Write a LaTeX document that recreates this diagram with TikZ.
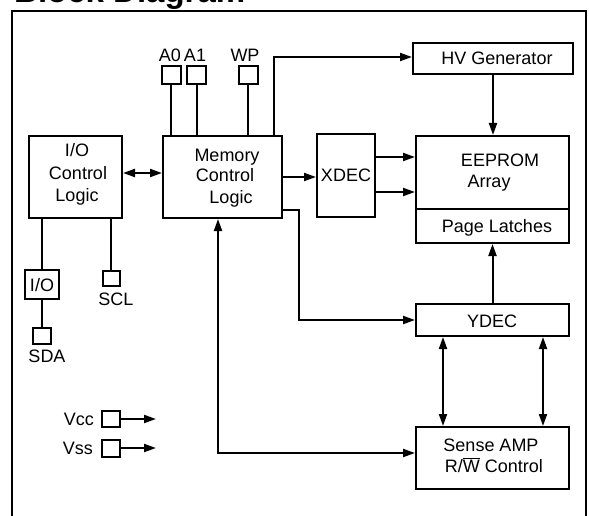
\documentclass[tikz,border=0pt]{standalone}
\usepackage{fontspec}
\setmainfont{Liberation Sans}
\usetikzlibrary{arrows.meta}
\begin{document}
\begin{tikzpicture}[x=1pt,y=-1pt,
  box/.style={draw, line width=2pt, inner sep=0pt, rectangle},
  lbl/.style={anchor=base, inner sep=0pt, font=\fontsize{18}{21}\selectfont},
  wire/.style={line width=2pt},
  arr/.style={wire, -{Triangle[length=12pt,width=8pt]}},
  dbl/.style={wire, {Triangle[length=12pt,width=8pt]}-{Triangle[length=12pt,width=8pt]}}]
\useasboundingbox (0,0) rectangle (589,516);
% title (cut at top)
\node[anchor=base west, inner sep=0pt, font=\fontsize{33}{33}\selectfont\bfseries] (title) at (14,2.5) {Block Diagram};
% frame
\draw[line width=2pt] (12,520) -- (12,11) -- (586,11) -- (586,520);
% boxes
\node[box, minimum width=93pt, minimum height=82pt] (ioc) at (75.5,177) {};
\node[box, minimum width=119pt, minimum height=82pt] (mem) at (222.5,177) {};
\node[box, minimum width=58pt, minimum height=83pt] (xdec) at (346,175.5) {};
\node[box, minimum width=153pt, minimum height=73pt] (eep) at (492.5,172.5) {};
\node[box, minimum width=153pt, minimum height=34pt] (pl) at (492.5,226) {};
\node[box, minimum width=160pt, minimum height=31pt] (hv) at (493,58.5) {};
\node[box, minimum width=153pt, minimum height=32pt] (ydec) at (492.5,320) {};
\node[box, minimum width=153pt, minimum height=62pt] (sense) at (492.5,458) {};
\node[box, minimum width=34pt, minimum height=29pt] (io) at (42,284.5) {};
% pins
\node[box, minimum width=18pt, minimum height=16pt] (sda) at (42,336) {};
\node[box, minimum width=17pt, minimum height=15pt] (scl) at (111,278.5) {};
\node[box, minimum width=19pt, minimum height=18pt] (a0) at (171,75) {};
\node[box, minimum width=19pt, minimum height=18pt] (a1) at (196.5,75) {};
\node[box, minimum width=19pt, minimum height=18pt] (wp) at (248,75) {};
\node[box, minimum width=18pt, minimum height=16pt] (vcc) at (111,419) {};
\node[box, minimum width=18pt, minimum height=17pt] (vss) at (111,448) {};
% texts
\node[lbl] (t1) at (77,157) {I/O};
\node[lbl] (t2) at (78,179) {Control};
\node[lbl] (t3) at (77,201) {Logic};
\node[lbl] (t4) at (227,161) {Memory};
\node[lbl] (t5) at (225,182) {Control};
\node[lbl] (t6) at (231,203) {Logic};
\node[lbl] (t7) at (346,182) {XDEC};
\node[lbl] (t8) at (500,166) {EEPROM};
\node[lbl] (t9) at (489,187) {Array};
\node[lbl] (t10) at (497,232) {Page Latches};
\node[lbl] (t11) at (497,65) {HV Generator};
\node[lbl] (t12) at (492,327) {YDEC};
\node[lbl] (t13) at (491,451) {Sense AMP};
\node[lbl] (t14) at (494,472) {R/$\overline{\mbox{W}}$ Control};
\node[lbl] (t15) at (42,291) {I/O};
\node[lbl] (t16) at (47,362) {SDA};
\node[lbl] (t17) at (116,305) {SCL};
\node[lbl] (t18) at (170,62) {A0};
\node[lbl] (t19) at (195,62) {A1};
\node[lbl] (t20) at (245,62) {WP};
\node[lbl, anchor=base east] (t21) at (94,425) {Vcc};
\node[lbl, anchor=base east] (t22) at (93,454) {Vss};
% connectors
\draw[dbl] ([yshift=4pt]ioc.east) -- ([yshift=4pt]mem.west);
\draw[arr] (mem.east) -- (mem.east -| xdec.west);
\draw[arr] ([yshift=15.5pt]eep.west -| xdec.east) -- ([yshift=15.5pt]eep.west);
\draw[arr] ([yshift=-19.5pt]eep.west -| xdec.east) -- ([yshift=-19.5pt]eep.west);
\draw[wire] (a0.south) -- (a0.south |- mem.north);
\draw[wire] (a1.south) -- (a1.south |- mem.north);
\draw[wire] (wp.south) -- (wp.south |- mem.north);
\draw[arr] ([xshift=51.5pt]mem.north) |- ([yshift=1.5pt]hv.west);
\draw[arr] (hv.south) -- (hv.south |- eep.north);
\draw[arr] ([yshift=-33pt]mem.east) -| ([xshift=-116.5pt]ydec.west) |- (ydec.west);
\draw[arr] (ydec.north) -- (pl.south);
\draw[dbl] ([xshift=-49.5pt]ydec.south) -- ([xshift=-49.5pt]sense.north);
\draw[dbl] ([xshift=50.5pt]ydec.south) -- ([xshift=50.5pt]sense.north);
\draw[dbl] ([xshift=-4.5pt]mem.south) |- ([yshift=5pt]sense.west);
\draw[wire] (io.north |- ioc.south) -- (io.north);
\draw[wire] (io.south) -- (sda.north);
\draw[wire] (scl.north |- ioc.south) -- (scl.north);
\draw[arr] (vcc.east) -- ++(35pt,0);
\draw[arr] (vss.east) -- ++(35pt,0);
\end{tikzpicture}
\end{document}
